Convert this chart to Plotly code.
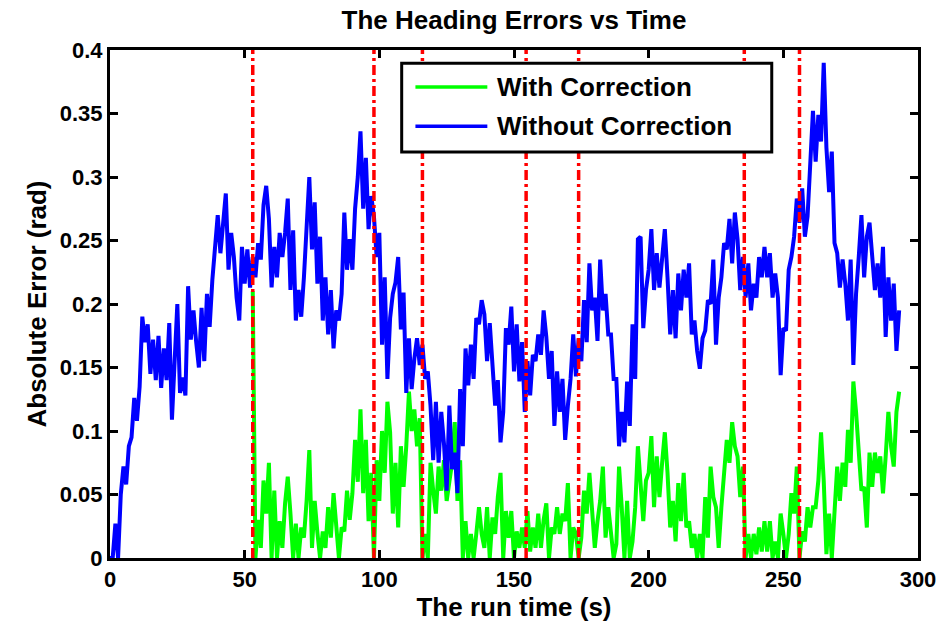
import plotly.graph_objects as go

# Sample times (s) and absolute heading error (rad) without correction
t_blue = list(range(0, 294))
err_without = [
    0.0, 0.0, 0.027, 0.0, 0.05, 0.072, 0.058, 0.088, 0.095, 0.126,
    0.108, 0.135, 0.19, 0.17, 0.184, 0.145, 0.172, 0.14, 0.175, 0.134,
    0.165, 0.14, 0.185, 0.109, 0.155, 0.20, 0.13, 0.142, 0.128, 0.214,
    0.172, 0.195, 0.17, 0.15, 0.197, 0.155, 0.208, 0.182, 0.219, 0.245,
    0.27, 0.24, 0.268, 0.287, 0.227, 0.256, 0.237, 0.205, 0.187, 0.245,
    0.216, 0.243, 0.213, 0.237, 0.221, 0.248, 0.235, 0.278, 0.293, 0.267,
    0.213, 0.245, 0.221, 0.256, 0.237, 0.256, 0.283, 0.211, 0.258, 0.187,
    0.211, 0.19, 0.221, 0.264, 0.30, 0.243, 0.28, 0.216, 0.253, 0.187,
    0.221, 0.176, 0.211, 0.165, 0.195, 0.187, 0.208, 0.272, 0.227, 0.251,
    0.227, 0.275, 0.30, 0.336, 0.275, 0.315, 0.259, 0.285, 0.269, 0.237,
    0.256, 0.168, 0.221, 0.141, 0.189, 0.208, 0.217, 0.237, 0.18, 0.209,
    0.13, 0.173, 0.133, 0.157, 0.173, 0.152, 0.168, 0.141, 0.147, 0.12,
    0.077, 0.123, 0.075, 0.115, 0.09, 0.053, 0.12, 0.07, 0.083, 0.051,
    0.133, 0.088, 0.165, 0.136, 0.168, 0.141, 0.189, 0.184, 0.203, 0.192,
    0.155, 0.185, 0.149, 0.12, 0.14, 0.091, 0.115, 0.181, 0.168, 0.198,
    0.147, 0.184, 0.139, 0.17, 0.115, 0.155, 0.128, 0.16, 0.155, 0.176,
    0.16, 0.195, 0.174, 0.141, 0.163, 0.104, 0.147, 0.115, 0.141, 0.093,
    0.12, 0.141, 0.176, 0.143, 0.173, 0.155, 0.203, 0.17, 0.232, 0.195,
    0.205, 0.171, 0.235, 0.195, 0.208, 0.176, 0.176, 0.141, 0.141, 0.088,
    0.115, 0.091, 0.139, 0.104, 0.184, 0.141, 0.251, 0.253, 0.181, 0.211,
    0.227, 0.259, 0.211, 0.240, 0.213, 0.237, 0.259, 0.221, 0.176, 0.211,
    0.173, 0.224, 0.195, 0.227, 0.205, 0.232, 0.176, 0.187, 0.163, 0.149,
    0.173, 0.179, 0.203, 0.2, 0.235, 0.168, 0.205, 0.221, 0.248, 0.243,
    0.267, 0.232, 0.272, 0.251, 0.211, 0.237, 0.205, 0.232, 0.195, 0.216,
    0.205, 0.237, 0.221, 0.245, 0.221, 0.24, 0.205, 0.224, 0.205, 0.144,
    0.181, 0.179, 0.227, 0.237, 0.253, 0.283, 0.264, 0.291, 0.253, 0.269,
    0.307, 0.352, 0.312, 0.349, 0.328, 0.39, 0.323, 0.288, 0.32, 0.248,
    0.24, 0.213, 0.235, 0.216, 0.187, 0.235, 0.152, 0.208, 0.237, 0.27,
    0.221, 0.253, 0.264, 0.235, 0.211, 0.232, 0.205, 0.245, 0.174, 0.221,
    0.187, 0.216, 0.163, 0.195,
]

# Sample times (s) and absolute heading error (rad) with correction
t_green = list(range(53, 294))
err_with = [
    0.21, 0.0, 0.03, 0.008, 0.061, 0.035, 0.075, 0.0, 0.053, 0.0,
    0.029, 0.008, 0.043, 0.064, 0.035, 0.0, 0.027, 0.0, 0.024, 0.016,
    0.045, 0.085, 0.008, 0.045, 0.02, 0.0, 0.021, 0.008, 0.04, 0.016,
    0.051, 0.02, 0.0, 0.024, 0.021, 0.053, 0.03, 0.051, 0.093, 0.06,
    0.117, 0.051, 0.093, 0.029, 0.067, 0.0, 0.077, 0.045, 0.1, 0.067,
    0.123, 0.099, 0.035, 0.075, 0.024, 0.088, 0.056, 0.088, 0.131, 0.1,
    0.117, 0.088, 0.11, 0.0, 0.019, 0.0, 0.075, 0.053, 0.035, 0.072,
    0.053, 0.077, 0.045, 0.06, 0.075, 0.107, 0.045, 0.077, 0.0, 0.029,
    0.0, 0.019, 0.0, 0.019, 0.04, 0.019, 0.008, 0.04, 0.0, 0.032,
    0.019, 0.048, 0.067, 0.0, 0.037, 0.016, 0.037, 0.0, 0.021, 0.008,
    0.024, 0.008, 0.037, 0.005, 0.024, 0.008, 0.035, 0.008, 0.03, 0.043,
    0.0, 0.024, 0.019, 0.04, 0.019, 0.035, 0.029, 0.059, 0.0, 0.024,
    0.019, 0.0, 0.016, 0.053, 0.035, 0.067, 0.035, 0.008, 0.029, 0.045,
    0.072, 0.016, 0.04, 0.02, 0.0, 0.011, 0.072, 0.04, 0.0, 0.045,
    0.0, 0.013, 0.04, 0.088, 0.061, 0.029, 0.061, 0.067, 0.096, 0.04,
    0.08, 0.048, 0.075, 0.099, 0.067, 0.024, 0.045, 0.013, 0.059, 0.029,
    0.067, 0.024, 0.029, 0.008, 0.019, 0.0, 0.019, 0.0, 0.048, 0.016,
    0.072, 0.048, 0.04, 0.008, 0.04, 0.069, 0.093, 0.075, 0.107, 0.088,
    0.08, 0.048, 0.072, 0.0, 0.019, 0.0, 0.019, 0.003, 0.024, 0.005,
    0.029, 0.005, 0.029, 0.0, 0.013, 0.0, 0.035, 0.019, 0.0, 0.019,
    0.051, 0.035, 0.072, 0.0, 0.021, 0.013, 0.04, 0.024, 0.04, 0.04,
    0.061, 0.099, 0.061, 0.003, 0.035, 0.0, 0.04, 0.072, 0.045, 0.075,
    0.056, 0.101, 0.075, 0.139, 0.115, 0.088, 0.053, 0.056, 0.024, 0.083,
    0.056, 0.083, 0.067, 0.08, 0.051, 0.08, 0.115, 0.088, 0.072, 0.115,
    0.131,
]

# Times (s) at which the heading correction was applied
correction_times = [53.0, 98.0, 116.0, 154.5, 174.0, 235.5, 256.0]

x_ticks = [0, 50, 100, 150, 200, 250, 300]
y_ticks = [0, 0.05, 0.1, 0.15, 0.2, 0.25, 0.3, 0.35, 0.4]
y_tick_text = ["0", "0.05", "0.1", "0.15", "0.2", "0.25", "0.3", "0.35", "0.4"]

assert len(t_blue) == len(err_without)
assert len(t_green) == len(err_with)

FONT = "Liberation Sans, Arial, sans-serif"
GREEN = "rgb(0,255,0)"
BLUE = "rgb(0,0,255)"
RED = "rgb(255,0,0)"

fig = go.Figure()
fig.add_trace(go.Scatter(x=t_green, y=err_with, mode="lines", name="With Correction",
                         line=dict(color=GREEN, width=4), showlegend=False))
fig.add_trace(go.Scatter(x=t_blue, y=err_without, mode="lines", name="Without Correction",
                         line=dict(color=BLUE, width=4), showlegend=False))
for tc in correction_times:
    fig.add_trace(go.Scatter(x=[tc, tc], y=[y_ticks[0], y_ticks[-1]], mode="lines",
                             line=dict(color=RED, width=3.5, dash="10px,4px,3px,4px"),
                             showlegend=False, hoverinfo="skip"))

axis_common = dict(
    showline=True, linecolor="black", linewidth=3, mirror="allticks",
    ticks="inside", ticklen=8, tickwidth=2.5, tickcolor="black",
    showgrid=False, zeroline=False,
    tickfont=dict(family=FONT, size=22, color="black", weight="bold"),
)

fig.update_layout(
    width=948, height=630,
    margin=dict(l=110, r=24, t=50, b=72),
    paper_bgcolor="white", plot_bgcolor="white",
    title=dict(text="<b>The Heading Errors vs Time</b>", x=0.5, xref="paper",
               y=1 - 20 / 630, yref="container", yanchor="middle",
               font=dict(family=FONT, size=26, color="black")),
    xaxis=dict(range=[0, 300], tickvals=x_ticks,
               title=dict(text="<b>The run time (s)</b>", standoff=5,
                          font=dict(family=FONT, size=26, color="black")),
               **axis_common),
    yaxis=dict(range=[0, 0.4], tickvals=y_ticks, ticktext=y_tick_text,
               title=dict(text="<b>Absolute Error (rad)</b>", standoff=6,
                          font=dict(family=FONT, size=26, color="black")),
               **axis_common),
    showlegend=False,
)

# Legend box with line samples
legend_rows = [(0.927, "With Correction", GREEN), (0.850, "Without Correction", BLUE)]
fig.add_shape(type="rect", xref="paper", yref="paper", x0=0.361, x1=0.819, y0=0.799, y1=0.974,
              line=dict(color="black", width=3), fillcolor="white", layer="above")
for yy, label, color in legend_rows:
    fig.add_shape(type="line", xref="paper", yref="paper", x0=0.378, x1=0.467, y0=yy, y1=yy,
                  line=dict(color=color, width=3.5), layer="above")
    fig.add_annotation(xref="paper", yref="paper", x=0.477, y=yy, xanchor="left", yanchor="middle",
                       text=f"<b>{label}</b>", showarrow=False,
                       font=dict(family=FONT, size=26, color="black"))

fig.write_html("out.html")
